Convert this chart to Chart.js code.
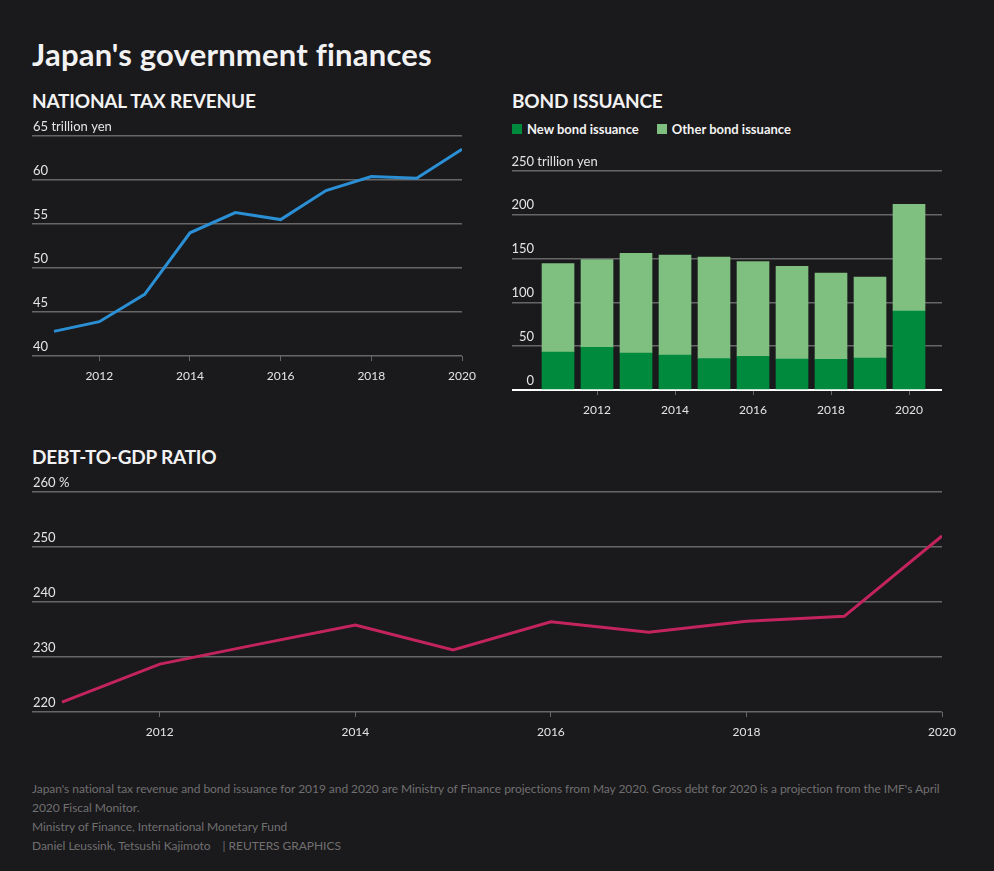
<!DOCTYPE html>
<html>
<head>
<meta charset="utf-8">
<script src="https://cdn.jsdelivr.net/npm/chart.js@4"></script>
<style>
  html, body { margin: 0; padding: 0; }
  body {
    width: 994px; height: 871px; background: #1a191c; color: #f2f2f2;
    font-family: Lato, "Noto Sans", sans-serif; position: relative; overflow: hidden;
  }
  .abs { position: absolute; }
  h1 { position: absolute; left: 32px; top: 35px; margin: 0; font-size: 31px; font-weight: 700; letter-spacing: 0.2px; }
  h2 { position: absolute; margin: 0; font-size: 19px; font-weight: 700; letter-spacing: -0.2px; }
  .legend { position: absolute; left: 512px; top: 121px; font-size: 13px; font-weight: 700; color: #f2f2f2; display: flex; }
  .legend span.item { display: flex; align-items: center; margin-right: 18px; }
  .legend i { display: inline-block; width: 10px; height: 10px; margin-right: 5px; }
  .foot { position: absolute; left: 32px; top: 779px; font-size: 12px; letter-spacing: -0.05px; line-height: 19px; color: #707070; white-space: nowrap; }
</style>
</head>
<body>
<h1>Japan's government finances</h1>
<h2 style="left:32px;top:89px">NATIONAL TAX REVENUE</h2>
<h2 style="left:512px;top:89px">BOND ISSUANCE</h2>
<h2 style="left:32px;top:445px">DEBT-TO-GDP RATIO</h2>
<div class="legend" id="legend"></div>

<canvas id="taxChart" class="abs" style="left:32px;top:116px;width:460px;height:270px"></canvas>
<canvas id="bondChart" class="abs" style="left:512px;top:151px;width:460px;height:269px"></canvas>
<canvas id="debtChart" class="abs" style="left:32px;top:472px;width:940px;height:270px"></canvas>

<div class="foot">
  Japan's national tax revenue and bond issuance for 2019 and 2020 are Ministry of Finance projections from May 2020. Gross debt for 2020 is a projection from the IMF's April<br>
  2020 Fiscal Monitor.<br>
  Ministry of Finance, International Monetary Fund<br>
  Daniel Leussink, Tetsushi Kajimoto &nbsp;&nbsp; | REUTERS GRAPHICS
</div>

<script>
// Data
const years = [2011, 2012, 2013, 2014, 2015, 2016, 2017, 2018, 2019, 2020];
const xTickYears = [2012, 2014, 2016, 2018, 2020];

const taxRevenue = [42.8, 43.9, 47.0, 54.0, 56.3, 55.5, 58.8, 60.4, 60.2, 63.5];
const taxTicks = [40, 45, 50, 55, 60, 65];

const bondSeries = ['New bond issuance', 'Other bond issuance'];
const newBonds = [43.4, 48.7, 42.2, 40.0, 35.8, 38.4, 35.4, 35.0, 36.5, 90.2];
const otherBonds = [100.8, 100.1, 113.8, 114.1, 116.0, 108.1, 105.8, 98.6, 92.5, 121.8];
const bondTicks = [0, 50, 100, 150, 200, 250];

const debtRatio = [221.8, 228.7, 232.3, 235.8, 231.3, 236.4, 234.5, 236.5, 237.4, 252.0];
const debtTicks = [220, 230, 240, 250, 260];

const GRID = '#666666';
const LABEL = '#e4e4e4';
const DARK_GREEN = '#008a3e';
const LIGHT_GREEN = '#7fbf80';

Chart.defaults.font.family = 'Lato, "Noto Sans", sans-serif';
Chart.defaults.animation = false;

const qs = (id) => document.getElementById(id);

// Legend for bond chart
[DARK_GREEN, LIGHT_GREEN].forEach((c, i) => {
  const el = document.createElement('span');
  el.className = 'item';
  el.innerHTML = `<i style="background:${c}"></i>${bondSeries[i]}`;
  qs('legend').appendChild(el);
});

// Draws y tick labels just above each gridline, unit after the top one
const yLabels = {
  id: 'yLabels',
  afterDraw(chart, args, opts) {
    const { ctx, chartArea, scales: { y } } = chart;
    ctx.save();
    ctx.font = '13px Lato, "Noto Sans", sans-serif';
    ctx.fillStyle = LABEL;
    ctx.textBaseline = 'middle';
    y.ticks.forEach((t, i) => {
      const py = y.getPixelForValue(t.value) - 9.5;
      const x = chartArea.left + opts.dx;
      ctx.textAlign = opts.align;
      ctx.fillText(String(t.value), x, py);
      if (i === y.ticks.length - 1) {
        const w = opts.align === 'right' ? 0 : ctx.measureText(String(t.value)).width;
        ctx.textAlign = 'left';
        ctx.fillText(opts.unit, x + w, py);
      }
    });
    ctx.restore();
  }
};

function xAxis(min, max) {
  return {
    type: 'linear', min, max, offset: false,
    afterBuildTicks: (s) => { s.ticks = xTickYears.map(v => ({ value: v })); },
    afterFit: (s) => { s.height = 30; },
    grid: { drawOnChartArea: false, offset: false, color: GRID, tickLength: 5, lineWidth: 1 },
    border: { display: false },
    ticks: { color: LABEL, font: { size: 12 }, padding: 8, maxRotation: 0, callback: (v) => String(v) }
  };
}

function yAxis(ticks, zeroWhite) {
  return {
    min: ticks[0], max: ticks[ticks.length - 1],
    afterBuildTicks: (s) => { s.ticks = ticks.map(v => ({ value: v })); },
    grid: {
      drawTicks: false,
      color: (c) => (zeroWhite && c.tick && c.tick.value === 0) ? '#ffffff' : GRID,
      lineWidth: (c) => (zeroWhite && c.tick && c.tick.value === 0) ? 2 : 1.5
    },
    border: { display: false },
    ticks: { display: false }
  };
}

const common = {
  responsive: false,
  maintainAspectRatio: false,
  layout: { padding: { top: 20, right: 30, left: 0, bottom: 0 } },
  plugins: { legend: { display: false }, tooltip: { enabled: false } }
};

function sizeCanvas(id) {
  const c = qs(id);
  c.width = parseInt(c.style.width);
  c.height = parseInt(c.style.height);
  return c;
}

// National tax revenue
new Chart(sizeCanvas('taxChart'), {
  type: 'line',
  data: {
    datasets: [{
      data: years.map((y, i) => ({ x: y, y: taxRevenue[i] })),
      borderColor: '#2a8fd4', borderWidth: 3, pointRadius: 0, tension: 0
    }]
  },
  options: {
    ...common,
    scales: { x: xAxis(2010.515, 2020), y: yAxis(taxTicks, false) },
    plugins: { ...common.plugins, yLabels: { dx: 1, align: 'left', unit: ' trillion yen' } }
  },
  plugins: [yLabels]
});

// Bond issuance
new Chart(sizeCanvas('bondChart'), {
  type: 'bar',
  data: {
    datasets: [
      { label: bondSeries[0], data: years.map((y, i) => ({ x: y, y: newBonds[i] })), backgroundColor: DARK_GREEN },
      { label: bondSeries[1], data: years.map((y, i) => ({ x: y, y: otherBonds[i] })), backgroundColor: LIGHT_GREEN }
    ]
  },
  options: {
    ...common,
    datasets: { bar: { barThickness: 32 } },
    scales: {
      x: { ...xAxis(2009.82, 2020.846), stacked: true },
      y: { ...yAxis(bondTicks, true), stacked: true }
    },
    plugins: { ...common.plugins, yLabels: { dx: 22, align: 'right', unit: ' trillion yen' } }
  },
  plugins: [yLabels]
});

// Debt-to-GDP ratio
new Chart(sizeCanvas('debtChart'), {
  type: 'line',
  data: {
    datasets: [{
      data: years.map((y, i) => ({ x: y, y: debtRatio[i] })),
      borderColor: '#c3245d', borderWidth: 3, pointRadius: 0, tension: 0
    }]
  },
  options: {
    ...common,
    scales: { x: xAxis(2010.693, 2020), y: yAxis(debtTicks, false) },
    plugins: { ...common.plugins, yLabels: { dx: 1, align: 'left', unit: ' %' } }
  },
  plugins: [yLabels]
});
</script>
</body>
</html>
